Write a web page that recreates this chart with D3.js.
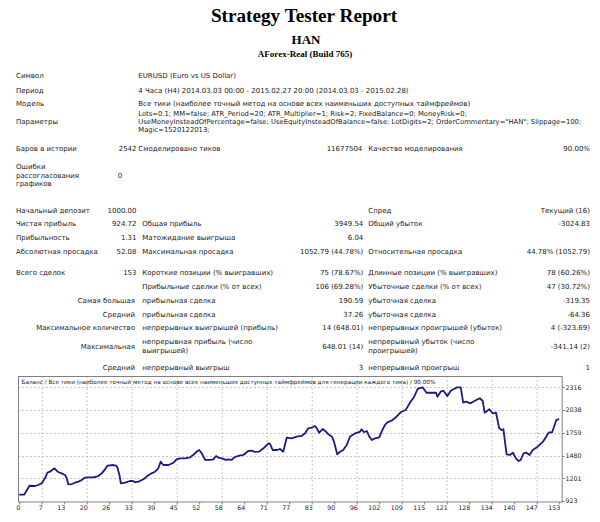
<!DOCTYPE html>
<html><head><meta charset="utf-8">
<script src="https://cdn.jsdelivr.net/npm/d3@7"></script>
<style>body{margin:0;background:#fff}svg{display:block}</style>
</head><body>
<svg id="c" width="600" height="522"></svg>
<script>
// ---------- data ----------
const titleLines = ["Strategy Tester Report", "HAN", "AForex-Real (Build 765)"];

const headerRows = [
  ["Символ", "EURUSD (Euro vs US Dollar)"],
  ["Период", "4 Часа (H4) 2014.03.03 00:00 - 2015.02.27 20:00 (2014.03.03 - 2015.02.28)"],
  ["Модель", "Все тики (наиболее точный метод на основе всех наименьших доступных таймфреймов)"]
];
const paramLines = [
  "Lots=0.1; MM=false; ATR_Period=20; ATR_Multiplier=1; Risk=2; FixedBalance=0; MoneyRisk=0;",
  "UseMoneyInsteadOfPercentage=false; UseEquityInsteadOfBalance=false; LotDigits=2; OrderCommentary=\"HAN\"; Slippage=100;",
  "Magic=1520122013;"
];
// [label1, value1, label2, value2, label3, value3]
const statRows = [
  ["Начальный депозит", "1000.00", "", "", "Спред", "Текущий (16)"],
  ["Чистая прибыль", "924.72", "Общая прибыль", "3949.54", "Общий убыток", "-3024.83"],
  ["Прибыльность", "1.31", "Матожидание выигрыша", "6.04", "", ""],
  ["Абсолютная просадка", "52.08", "Максимальная просадка", "1052.79 (44.78%)", "Относительная просадка", "44.78% (1052.79)"],
  ["Всего сделок", "153", "Короткие позиции (% выигравших)", "75 (78.67%)", "Длинные позиции (% выигравших)", "78 (60.26%)"],
  ["", "", "Прибыльные сделки (% от всех)", "106 (69.28%)", "Убыточные сделки (% от всех)", "47 (30.72%)"],
  ["Самая большая", "", "прибыльная сделка", "190.59", "убыточная сделка", "-319.35"],
  ["Средний", "", "прибыльная сделка", "37.26", "убыточная сделка", "-64.36"],
  ["Максимальное количество", "", "непрерывных выигрышей (прибыль)", "14 (648.01)", "непрерывных проигрышей (убыток)", "4 (-323.69)"],
  ["Максимальная", "", "непрерывная прибыль (число|выигрышей)", "648.01 (14)", "непрерывный убыток (число|проигрышей)", "-341.14 (2)"],
  ["Средний", "", "непрерывный выигрыш", "3", "непрерывный проигрыш", "1"]
];

const chartCaption = "Баланс / Все тики (наиболее точный метод на основе всех наименьших доступных таймфреймов для генерации каждого тика) / 90.00%";

// balance curve (trade number, balance)
const tradeIdx = [0,1.4,1.9,2.9,4.5,5.4,6.4,7.3,8,8.7,10,10.9,12,13,13.5,13.9,14.9,15.8,16.8,17.7,18.6,20,21,22.4,23.4,24.3,25,26.7,27.4,27.8,28.4,28.8,30,31.4,32.2,32.8,33.8,35.2,36.2,37.5,38.5,39.4,40.1,40.8,42.3,43.7,44.6,45.6,47,48.4,49.3,50.5,51,51.7,52.7,54.1,55,55.8,56.4,57.4,58.6,59.3,60.2,61,62.1,63.5,64.9,65.9,66.8,68,69.2,70.6,71.1,71.8,73,73.9,74.8,75.8,77.2,78.6,80,81,81.9,82.9,83.8,84.3,85,86,86.7,87.6,88.6,89.2,90.1,90.9,91.8,92.8,93.7,95.2,96.6,97,97.7,98.5,99.1,99.9,100.8,102,102.7,103.6,104.3,105.5,106.9,108.3,109.5,110.6,111.9,112.9,114.3,115.4,118.1,118.5,119.4,120.2,121.3,122.3,123,124.1,125.1,125.8,126.6,127.9,129.1,130.5,131.3,131.9,133.2,134.2,135.1,136,136.7,137.2,138.1,139,139.9,140.6,141.5,142.1,142.9,143.7,144.6,145.5,146.9,148.4,149.3,150.1,151,152.2,153];
const balance = [1000,1000,1037,1110,1107,1119,1140,1201,1270,1282,1324,1282,1262,1242,1201,1128,1131,1147,1160,1180,1209,1213,1213,1229,1262,1311,1356,1364,1356,1336,1242,1140,1147,1168,1168,1152,1160,1189,1225,1262,1282,1324,1405,1364,1364,1392,1434,1446,1446,1459,1487,1536,1548,1508,1426,1426,1434,1475,1454,1446,1426,1434,1426,1459,1475,1487,1536,1540,1524,1528,1569,1630,1622,1548,1548,1560,1527,1699,1691,1711,1720,1753,1814,1821,1842,1814,1760,1805,1781,1740,1711,1650,1495,1527,1548,1609,1711,1753,1773,1802,1765,1781,1720,1671,1691,1703,1773,1854,1887,1907,1956,2017,2038,2120,2201,2296,2316,2250,2250,2201,2263,2275,2210,2275,2292,2316,2316,2128,2140,2120,2152,2182,2152,2005,2047,1998,2005,1814,1793,1802,1495,1487,1515,1454,1413,1426,1508,1515,1487,1548,1589,1650,1711,1765,1765,1916,1925];

const xTickLabels = ["0","7","13","20","26","33","39","45","52","58","64","71","77","83","90","96","102","109","115","121","128","134","140","147","153"];
const yTickValues = [923,1201,1480,1759,2038,2316];

// ---------- drawing ----------
const svg = d3.select("#c");
const txtFont = "DejaVu Sans";
const fs = 7;

// Titles
const tc = 304;
svg.append("text").attr("x",tc).attr("y",22.2).attr("text-anchor","middle")
  .attr("font-family","Liberation Serif").attr("font-weight","bold").attr("font-size",19.2).text(titleLines[0]);
svg.append("text").attr("x",tc+2).attr("y",44).attr("text-anchor","middle")
  .attr("font-family","Liberation Serif").attr("font-weight","bold").attr("font-size",13).text(titleLines[1]);
svg.append("text").attr("x",tc+1).attr("y",56.7).attr("text-anchor","middle")
  .attr("font-family","Liberation Serif").attr("font-weight","bold").attr("font-size",9).text(titleLines[2]);

function t(x, yc, s, anchor, size){
  svg.append("text").attr("x",x).attr("y",yc+2.5).attr("text-anchor",anchor||"start")
    .attr("font-family",txtFont).attr("font-size",size||fs).attr("fill","#1a1a1a").text(s);
}
const L1 = 16, V1 = 136.5, L2a = 138.3, L2 = 142.3, V2 = 363.3, L3 = 368.3, V3 = 590;

// header rows
const hY = [75.7, 90.7, 103.3];
headerRows.forEach((r,i)=>{ t(L1,hY[i],r[0]); t(L2a,hY[i],r[1]); });
t(L1,121,"Параметры");
[113.3,121,129].forEach((y,i)=>t(L2a,y,paramLines[i],"start",6.8));
t(L1,148.3,"Баров в истории"); t(V1,148.3,"2542","end"); t(L2a,148.3,"Смоделировано тиков");
t(362.3,148.3,"11677504","end"); t(L3,148.3,"Качество моделирования"); t(V3,148.3,"90.00%","end");
t(L1,166.7,"Ошибки"); t(L1,175,"рассогласования"); t(L1,183.3,"графиков"); t(120,175,"0","middle");

// stats
const sY = [210,223.3,237.7,251.7,272.7,286.7,300,314,327.7,346,367.7];
statRows.forEach((r,i)=>{
  const y = sY[i];
  if (r[0]) { if (r[1]) t(L1,y,r[0]); else t(135,y,r[0],"end"); }
  if (r[1]) t(V1,y,r[1],"end");
  if (r[2]) { const p=r[2].split("|"); if(p.length>1){t(L2,y-4.3,p[0]);t(L2,y+4.3,p[1]);} else t(L2,y,p[0]); }
  if (r[3]) t(V2,y,r[3],"end");
  if (r[4]) { const p=r[4].split("|"); if(p.length>1){t(L3,y-4.3,p[0]);t(L3,y+4.3,p[1]);} else t(L3,y,p[0]); }
  if (r[5]) t(V3,y,r[5],"end");
});

// chart
const fx0 = 18, fx1 = 561.7, fy0 = 376, fy1 = 501.5;
const x = d3.scaleLinear().domain([0,153]).range([19.2,559.2]);
const xt = d3.scalePoint().domain(xTickLabels).range([19.2,559.2]);
const y = d3.scaleLinear().domain([923,2455]).range([501,376]);

const g = svg.append("g");
// grid
g.selectAll(".vg").data(xTickLabels.filter((d,i)=>i%2===1)).join("line")
  .attr("x1",d=>xt(d)+0.5).attr("x2",d=>xt(d)+0.5).attr("y1",fy0).attr("y2",fy1)
  .attr("stroke","#b8b8b8").attr("stroke-dasharray","2,2").attr("stroke-width",0.8);
g.selectAll(".hg").data(yTickValues.slice(1)).join("line")
  .attr("x1",fx0).attr("x2",fx1).attr("y1",d=>Math.round(y(d))+0.5).attr("y2",d=>Math.round(y(d))+0.5)
  .attr("stroke","#b8b8b8").attr("stroke-dasharray","2,2").attr("stroke-width",0.8);

// frame
g.append("rect").attr("x",fx0+0.5).attr("y",fy0+0.5).attr("width",fx1-fx0).attr("height",fy1-fy0)
  .attr("fill","none").attr("stroke","#808080").attr("stroke-width",1);

// caption
svg.append("text").attr("x",21.5).attr("y",383.7).attr("font-family",txtFont).attr("font-size",5.7)
  .attr("fill","#222").text(chartCaption);

// line
const pts = tradeIdx.map((d,i)=>[d,balance[i]]);
g.append("path").datum(pts)
  .attr("d", d3.line().x(d=>x(d[0])).y(d=>y(d[1])))
  .attr("fill","none").attr("stroke","#1b1b84").attr("stroke-width",1.8).attr("stroke-linejoin","round");

// x ticks
g.selectAll(".xt").data(xTickLabels).join("line")
  .attr("x1",d=>xt(d)+0.5).attr("x2",d=>xt(d)+0.5).attr("y1",fy1+0.5).attr("y2",fy1+3)
  .attr("stroke","#808080");
g.selectAll(".xl").data(xTickLabels).join("text")
  .attr("x",d=>xt(d)+1).attr("y",509.5).attr("text-anchor","end")
  .attr("font-family",txtFont).attr("font-size",6.3).attr("fill","#222").text(d=>d);

// y ticks
g.selectAll(".yt").data(yTickValues).join("line")
  .attr("x1",fx1+0.5).attr("x2",fx1+3).attr("y1",d=>Math.round(y(d))+0.5).attr("y2",d=>Math.round(y(d))+0.5)
  .attr("stroke","#808080");
g.selectAll(".yl").data(yTickValues).join("text")
  .attr("x",565.5).attr("y",d=>y(d)+2.2)
  .attr("font-family",txtFont).attr("font-size",6.3).attr("fill","#222").text(d=>d);
</script>
</body></html>
